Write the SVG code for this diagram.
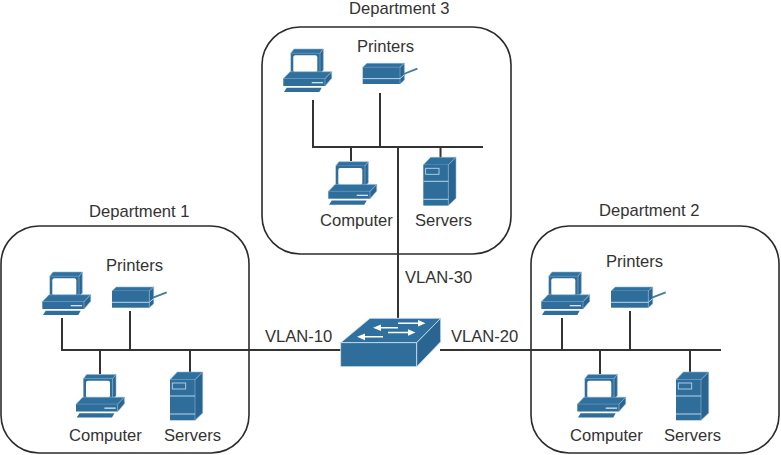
<svg xmlns="http://www.w3.org/2000/svg" width="781" height="455" viewBox="0 0 781 455">
<style>
.box{fill:#fff;stroke:#2b2b2b;stroke-width:1.6}
.w{stroke:#333;stroke-width:2;fill:none}
.f{fill:#2f6d9b}
.t{fill:#30709f}
.s{fill:#2a6592}
.h{stroke:#b9d6e8;stroke-width:1;fill:none}
.e{stroke:#8fb6d0;stroke-width:0.6;stroke-linejoin:round}
text{font-family:"Liberation Sans",Arial,sans-serif;font-size:16.6px;fill:#333}
</style>
<defs>
<g id="computer">
<polygon class="t e" points="7.7,4.3 11,0 40.3,0 37,4.3"/>
<rect class="f" x="7.7" y="4.3" width="29.3" height="20.7"/>
<polygon class="s e" points="37,4.3 40.3,0 40.3,21 37,25"/>
<rect x="10.3" y="6.3" width="24" height="17" rx="2" fill="#fff"/>
<polygon class="t e" points="0.3,29.7 7,22.7 48.7,22.7 42,29.7"/>
<rect class="f" x="0.3" y="29.7" width="41.7" height="7.3"/>
<polygon class="s e" points="42,29.7 48.7,22.7 48.700,29.300 42,37"/>
<polygon class="f" points="3.7,38.7 38.7,38.7 36.3,43 1,43"/>
<rect x="28.7" y="33" width="11.3" height="1.3" fill="#d5e6f1"/>
</g>
<g id="printer">
<polygon class="t e" points="0,4 4.3,0 41.7,0 37.3,4"/>
<rect class="f" x="0" y="4" width="37.3" height="16.7"/>
<polygon class="s e" points="37.3,4 41.7,0 41.7,16.7 37.3,20.7"/>
<path class="h" d="M0 15.3H37.3L41.7 11.500"/>
<path d="M41 10.7L54.7 5.300" stroke="#3f7caa" stroke-width="1.800" fill="none"/>
</g>
<g id="server">
<polygon class="t e" points="0,7.7 7.3,0 32.7,0 25,7.7"/>
<rect class="f" x="0" y="7.7" width="25" height="40.6"/>
<polygon class="s e" points="25,7.7 32.7,0 32.7,41 25,48.3"/>
<path class="h" d="M0 24H25M0 42H25"/>
<rect x="2.3" y="11" width="13.400" height="6" fill="none" stroke="#b9d6e8" stroke-width="0.900"/>
</g>
</defs>
<g id="department-3">
<rect class="box" x="262" y="27" width="249" height="227" rx="38"/>
<text x="349" y="14">Department 3</text>
<text x="357" y="52">Printers</text>
<text x="320" y="226">Computer</text>
<text x="415" y="226">Servers</text>
</g>
<g id="department-1">
<rect class="box" x="1" y="226" width="248" height="227" rx="38"/>
<text x="89" y="217">Department 1</text>
<text x="106" y="271">Printers</text>
<text x="69" y="441">Computer</text>
<text x="164" y="441">Servers</text>
</g>
<g id="department-2">
<rect class="box" x="531" y="226" width="248" height="227" rx="38"/>
<text x="599" y="216">Department 2</text>
<text x="606" y="267">Printers</text>
<text x="570" y="441">Computer</text>
<text x="664" y="441">Servers</text>
</g>
<g id="connectors">
<path class="w" d="M313 100V147M380 93V147M312 147H483M351 147V161M440.500 147V158M398 147V318"/>
<path class="w" d="M62 318V350M130 311V350M61 350H341M100 350V374M190 350V372"/>
<path class="w" d="M562 318V350M630 311V350M440 350H721M600 350V374M690 350V372"/>
</g>
<g id="d3-computer-1"><use href="#computer" x="283" y="49"/></g>
<g id="d3-printer"><use href="#printer" x="362.700" y="63.300"/></g>
<g id="d3-computer-2"><use href="#computer" x="328" y="161.700"/></g>
<g id="d3-server"><use href="#server" x="423.300" y="157.300"/></g>
<g id="d1-computer-1"><use href="#computer" x="42" y="272"/></g>
<g id="d1-printer"><use href="#printer" x="112" y="287"/></g>
<g id="d1-computer-2"><use href="#computer" x="75.700" y="374.500"/></g>
<g id="d1-server"><use href="#server" x="170" y="372"/></g>
<g id="d2-computer-1"><use href="#computer" x="541" y="272"/></g>
<g id="d2-printer"><use href="#printer" x="611" y="287"/></g>
<g id="d2-computer-2"><use href="#computer" x="577" y="374.500"/></g>
<g id="d2-server"><use href="#server" x="676" y="372"/></g>
<g id="switch">
<polygon class="t" points="340.700,342.700 370,318.300 440.700,318.300 416.700,342.700" stroke="#cfe2ee" stroke-width="0.800"/>
<rect class="f" x="340.700" y="342.700" width="76" height="24" stroke="#cfe2ee" stroke-width="0.800"/>
<polygon class="s" points="416.700,342.700 440.700,318.300 440.700,341.700 416.700,366.700" stroke="#cfe2ee" stroke-width="0.800"/>
<path d="M398 322.600H418V320L425.500 323.300L418 326.600V324H398ZM398 327H381V324.400L373 327.700L381 331V328.400H398ZM388 331.800H408V329.200L415.500 332.500L408 335.800V333.200H388ZM383 336H365V333.400L357 336.800L365 340.200V337.500H383Z" fill="#fff"/>
</g>
<g id="vlan-labels">
<text x="405" y="283">VLAN-30</text>
<text x="265" y="342">VLAN-10</text>
<text x="451" y="342">VLAN-20</text>
</g>
</svg>
